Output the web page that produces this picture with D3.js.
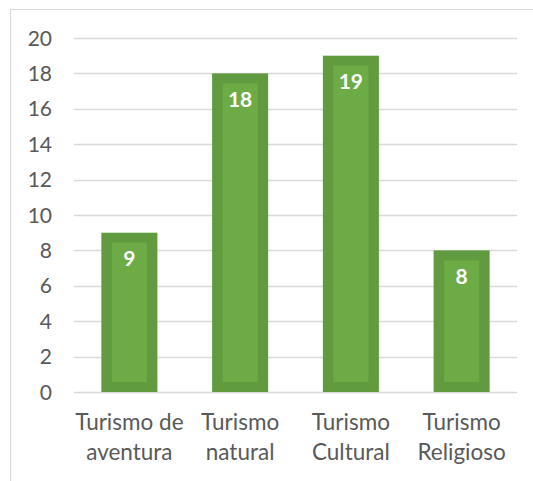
<!DOCTYPE html>
<html><head><meta charset="utf-8">
<script src="https://cdn.jsdelivr.net/npm/d3@7"></script>
<style>body{margin:0;background:#fff}svg{display:block}</style>
</head><body>
<svg id="c" width="533" height="481"></svg>
<script>
const categories = [["Turismo de","aventura"],["Turismo","natural"],["Turismo","Cultural"],["Turismo","Religioso"]];
const values = [9, 18, 19, 8];
const yTicks = [0,2,4,6,8,10,12,14,16,18,20];

const svg = d3.select("#c");
const font = "Lato, 'Open Sans', sans-serif";
svg.append("rect").attr("x",10.5).attr("y",9.5).attr("width",600).attr("height",600)
  .attr("fill","#fff").attr("stroke","#d9d9d9");

const x = d3.scaleBand().domain(d3.range(categories.length)).range([74,517]).paddingInner(0.494).paddingOuter(0.247);
const y = d3.scaleLinear().domain([0,20]).range([392,38]);

const g = svg.append("g");
g.selectAll("line.grid").data(yTicks).join("line")
  .attr("x1",74).attr("x2",517).attr("y1",d=>Math.round(y(d))+0.5).attr("y2",d=>Math.round(y(d))+0.5)
  .attr("stroke","#d9d9d9").attr("stroke-width",1.3);

g.selectAll("text.yt").data(yTicks).join("text")
  .attr("x",52).attr("y",d=>y(d)).attr("dy","0.36em").attr("text-anchor","end")
  .attr("font-family",font).attr("font-size",21).attr("fill","#595959").text(d=>d);

const bw = x.bandwidth();
const bars = g.selectAll("g.bar").data(values).join("g");
bars.append("rect").attr("x",(d,i)=>x(i)).attr("y",d=>y(d)).attr("width",bw).attr("height",d=>y(0)-y(d))
  .attr("fill","#609C3F");
bars.append("rect").attr("x",(d,i)=>x(i)+10.5).attr("y",d=>y(d)+10).attr("width",bw-21).attr("height",d=>y(0)-y(d)-20)
  .attr("fill","#6DAB47");
bars.append("text").attr("x",(d,i)=>x(i)+bw/2).attr("y",d=>y(d)+26).attr("dy","0.36em").attr("text-anchor","middle")
  .attr("font-family",font).attr("font-weight","bold").attr("font-size",21).attr("fill","#fff").text(d=>d);

categories.forEach((c,i)=>{
  const t = g.append("text").attr("x",x(i)+bw/2).attr("text-anchor","middle")
    .attr("font-family",font).attr("font-size",22.5).attr("fill","#595959");
  c.forEach((line,j)=>t.append("tspan").attr("x",x(i)+bw/2).attr("y",430+j*30).text(line));
});
</script>
</body></html>
